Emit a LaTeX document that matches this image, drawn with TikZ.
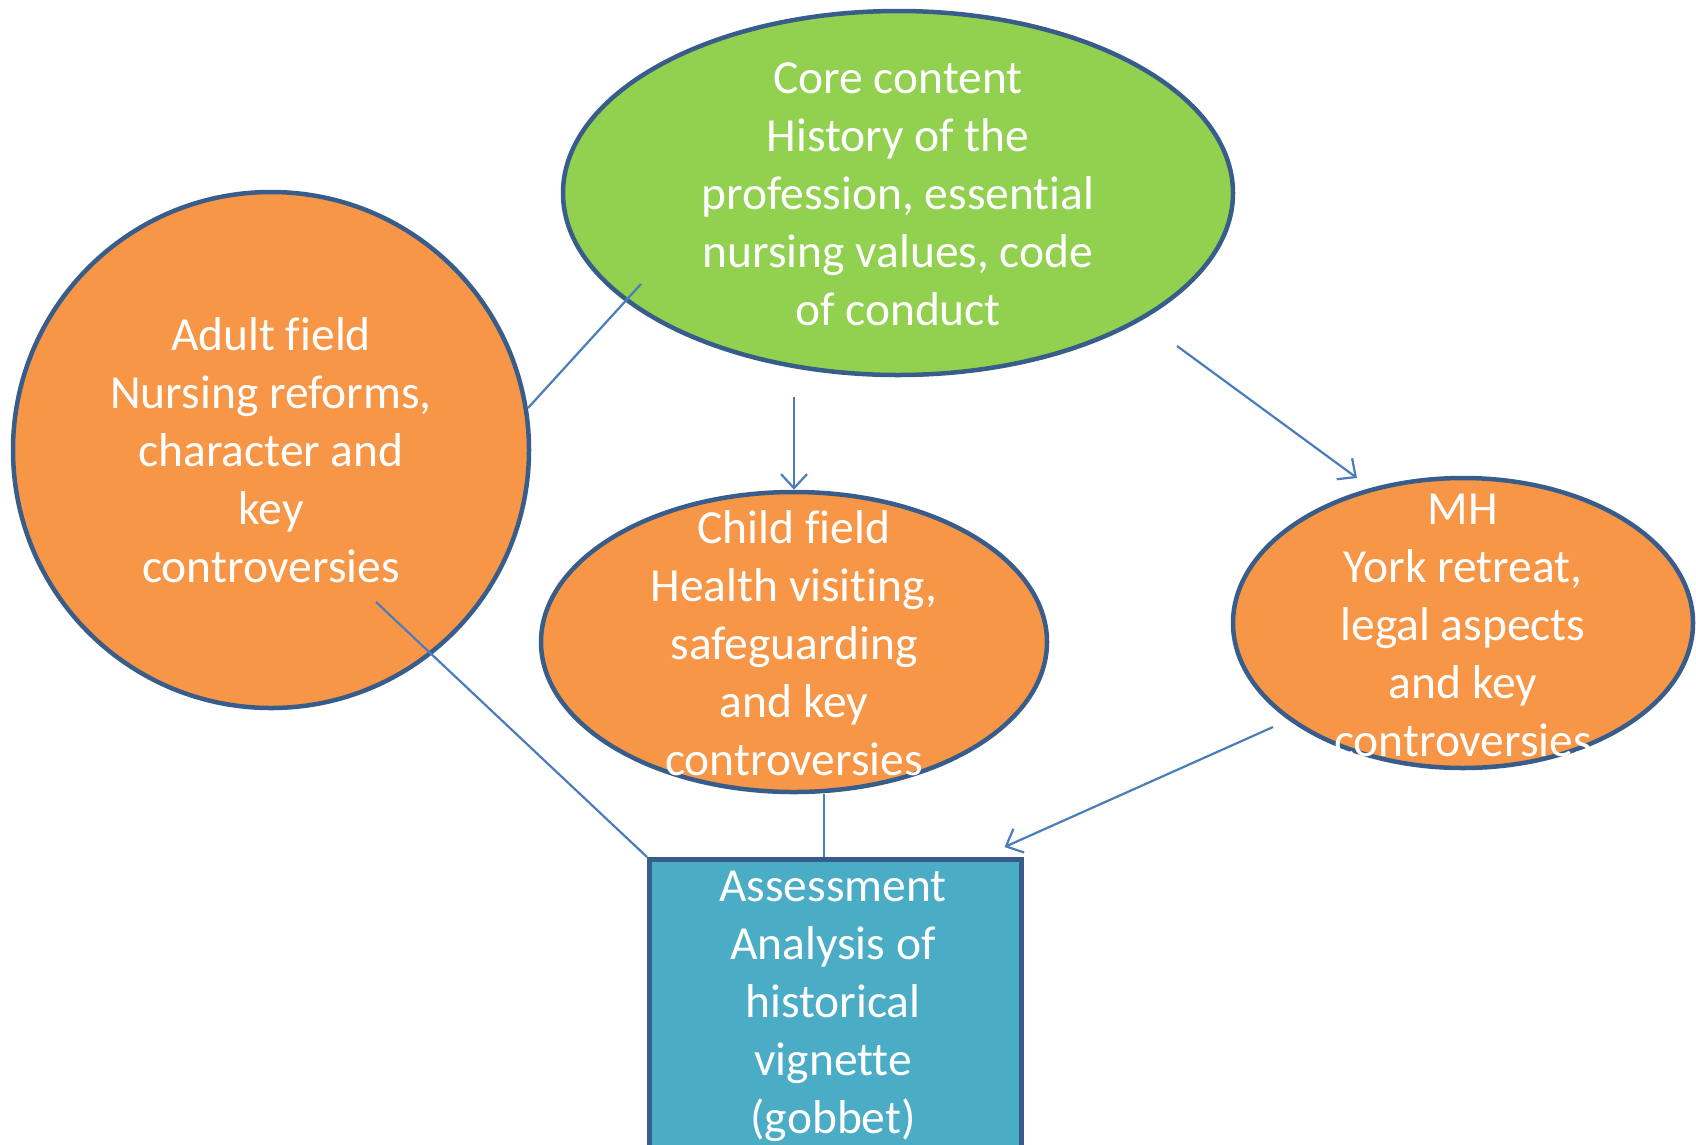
\documentclass[tikz,border=0pt]{standalone}
\usepackage{fontspec}
\setmainfont[Ligatures={NoCommon,NoRequired}]{Carlito}
\usetikzlibrary{shapes.geometric,arrows.meta,calc}
\definecolor{cgreen}{HTML}{92D050}
\definecolor{corange}{HTML}{F79646}
\definecolor{cteal}{HTML}{4BACC6}
\definecolor{borderblue}{HTML}{385D8A}
\definecolor{linkblue}{HTML}{4A7EBB}
\begin{document}
\begin{tikzpicture}[x=1pt,y=-1pt,
  shapeborder/.style={draw=borderblue, line width=4.5pt},
  oval/.style={ellipse, shapeborder, inner sep=0pt},
  txt/.style={text=white, align=center, font=\fontsize{47.5}{58}\selectfont, inner sep=0pt},
  conn/.style={draw=linkblue, line width=2.2pt},
  arr/.style={conn, -{Straight Barb[length=14pt,width=26pt]}}]
\useasboundingbox (0,0) rectangle (1696,1144);
% shapes
\node[oval, fill=cgreen, minimum width=670pt, minimum height=364pt] (core) at (898,193) {};
\node[circle, shapeborder, fill=corange, inner sep=0pt, minimum size=516pt] (adult) at (271,450) {};
\node[oval, fill=corange, minimum width=506pt, minimum height=300pt] (child) at (794,642) {};
\node[oval, fill=corange, minimum width=460pt, minimum height=290pt] (mh) at (1463,623) {};
\node[rectangle, shapeborder, fill=cteal, minimum width=372pt, minimum height=330pt, anchor=north west, inner sep=0pt] (box) at (647,857) {};
% connectors
\draw[conn] ($(core.center)+(-257,91)$) -- ($(adult.center)+(257,-42)$);
\draw[arr] ($(core.center)+(-104,204)$) -- (child.north);
\draw[arr] ($(core.center)+(279,153)$) -- ($(mh.center)+(-106,-145)$);
\draw[conn] ($(adult.center)+(105,152)$) -- (box.north west);
\draw[conn] ($(child.south)+(30,0)$) -- ($(box.north west)+(177,0)$);
\draw[arr] ($(mh.center)+(-190,104)$) -- ($(box.north east)+(-19,-10)$);
% texts
\node[txt] (coretxt) at (898,194) {Core content\\History of the\\profession, essential\\nursing values, code\\of conduct};
\node[txt] (adulttxt) at (271,450) {Adult field\\Nursing reforms,\\character and\\key\\controversies};
\node[txt] (childtxt) at (794,643) {Child field\\Health visiting,\\safeguarding\\and key\\controversies};
\node[txt] (mhtxt) at (1463,625) {MH\\York retreat,\\legal aspects\\and key\\controversies};
\node[txt] (boxtxt) at (833,1006) {Assessment\\Analysis of\\historical\\vignette\\(gobbet)};
\end{tikzpicture}
\end{document}
